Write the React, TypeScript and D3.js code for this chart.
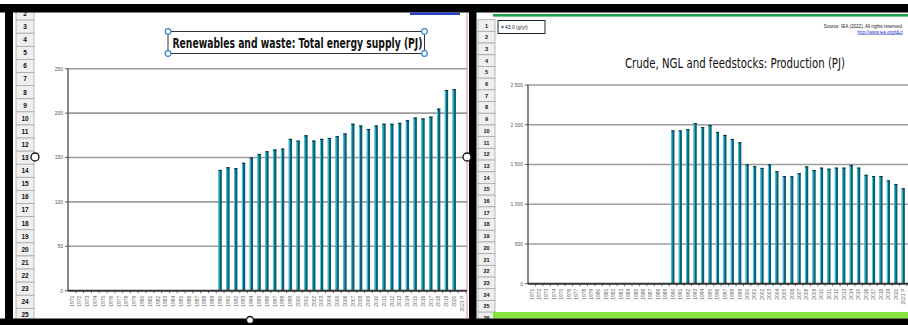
import React from "react";
import * as d3 from "d3";

const years = [
  "1971","1972","1973","1974","1975","1976","1977","1978","1979","1980",
  "1981","1982","1983","1984","1985","1986","1987","1988","1989","1990",
  "1991","1992","1993","1994","1995","1996","1997","1998","1999","2000",
  "2001","2002","2003","2004","2005","2006","2007","2008","2009","2010",
  "2011","2012","2013","2014","2015","2016","2017","2018","2019","2020",
  "2021 P",
];

const pre1990: (number | null)[] = [
  null, null, null, null, null, null, null, null, null, null,
  null, null, null, null, null, null, null, null, null,
];

// Renewables and waste: Total energy supply (PJ), 1990-2020 (2021 P not shown)
const renewables: (number | null)[] = [
  ...pre1990,
  136, 139, 138, 144, 150, 154, 157, 159, 160, 171,
  169, 175, 169, 171, 172, 174, 177, 188, 186, 182,
  186, 188, 188, 189, 192, 195, 194, 196, 205, 226,
  227, null,
];

// Crude, NGL and feedstocks: Production (PJ), 1990-2021 P
const crude: (number | null)[] = [
  ...pre1990,
  1928, 1928, 1945, 2021, 1970, 1996, 1910, 1872, 1821, 1779,
  1500, 1479, 1457, 1500, 1415, 1355, 1351, 1390, 1475, 1430,
  1460, 1447, 1460, 1460, 1494, 1460, 1370, 1355, 1355, 1300,
  1253, 1200,
];

const leftTicks = [0, 50, 100, 150, 200, 250];
const rightTicks = [0, 500, 1000, 1500, 2000, 2500];
const rightTickLabels = ["0", "500", "1 000", "1 500", "2 000", "2 500"];
const leftRows = [2,3,4,5,6,7,8,9,10,11,12,13,14,15,16,17,18,19,20,21,22,23,24,25];
const rightRows = [1,2,3,4,5,6,7,8,9,10,11,12,13,14,15,16,17,18,19,20,21,22,23,24,25,26];

const leftTitle = "Renewables and waste: Total energy supply (PJ)";
const rightTitle = "Crude, NGL and feedstocks: Production (PJ)";

const FONT = "'Liberation Sans', Arial, sans-serif";
const NARROW = "'Liberation Sans Narrow', 'DejaVu Sans Condensed', 'Liberation Sans', sans-serif";

type ChartProps = {
  values: (number | null)[];
  x0: number; x1: number; yTop: number; yBot: number;
  max: number; ticks: number[]; tickLabels: string[];
  clipId: string; clipRight: number;
};

function BarChart(p: ChartProps) {
  const x = d3.scaleBand<string>().domain(years).range([p.x0, p.x1]).paddingInner(0.58).paddingOuter(0.29);
  const y = d3.scaleLinear().domain([0, p.max]).range([p.yBot, p.yTop]);
  const step = x.step();
  return (
    <g>
      <defs>
        <clipPath id={p.clipId}>
          <rect x={0} y={0} width={p.clipRight} height={325} />
        </clipPath>
      </defs>
      <g clipPath={`url(#${p.clipId})`}>
        {p.ticks.map((t, i) => (
          <g key={t}>
            {t > 0 && (
              <line x1={p.x0} x2={p.x1 + 10} y1={y(t)} y2={y(t)} stroke="#9c9c9c" strokeWidth={1.6} />
            )}
            <line x1={p.x0 - 3} x2={p.x0} y1={y(t)} y2={y(t)} stroke="#555" strokeWidth={1} />
            <text x={p.x0 - 5} y={y(t) + 1.8} fontSize={5} fill="#555" textAnchor="end" fontFamily={FONT}>
              {p.tickLabels[i]}
            </text>
          </g>
        ))}
        {years.map((yr, i) => {
          const v = p.values[i];
          if (v == null) return null;
          const bx = x(yr) as number;
          const bw = x.bandwidth();
          return (
            <g key={yr}>
              <rect x={bx} y={y(v)} width={bw} height={y(0) - y(v)} fill="#0c5f72" />
              <line x1={bx + 0.5} x2={bx + 0.5} y1={y(v)} y2={y(0)} stroke="#3fd3ea" strokeWidth={1} />
              <line x1={bx} x2={bx + bw} y1={y(v) + 0.5} y2={y(v) + 0.5} stroke="#06303a" strokeWidth={1} />
            </g>
          );
        })}
        <line x1={p.x0} x2={p.x0} y1={p.yTop} y2={p.yBot} stroke="#555" strokeWidth={1.4} />
        <line x1={p.x0} x2={p.x1 + 10} y1={p.yBot} y2={p.yBot} stroke="#333" strokeWidth={2} />
        {years.map((yr, i) => (
          <line key={"t" + yr} x1={p.x0 + step * (i + 1)} x2={p.x0 + step * (i + 1)} y1={p.yBot} y2={p.yBot + 2.5} stroke="#444" strokeWidth={0.8} />
        ))}
        {years.map((yr) => {
          const cx = (x(yr) as number) + x.bandwidth() / 2;
          const ty = p.yBot + 5;
          return (
            <text key={"l" + yr} x={cx + 1.8} y={ty} fontSize={5} fill="#666" fontFamily={FONT}
              textAnchor="end" transform={`rotate(-90, ${cx + 1.8}, ${ty})`}>
              {yr}
            </text>
          );
        })}
      </g>
    </g>
  );
}

export default function App() {
  const lRowH = 13.1;
  const rRowH = 11.7;
  const handle = (cx: number, cy: number, k: string) => (
    <circle key={k} cx={cx} cy={cy} r={2.8} fill="#fff" stroke="#3b82d6" strokeWidth={1.2} />
  );
  return (
    <svg width={908} height={325} style={{ position: "absolute", left: 0, top: 0, background: "#fff" }}>
      <rect x={0} y={0} width={908} height={325} fill="#fff" />
      {/* row headers left */}
      {leftRows.map((r, i) => {
        const cy = 13.6 + i * lRowH;
        return (
          <g key={"lr" + r}>
            <rect x={16} y={cy - lRowH / 2} width={18} height={lRowH} fill="#efefef" stroke="#a8a8a8" strokeWidth={0.8} />
            <text x={25} y={cy + 2.3} fontSize={6.5} textAnchor="middle" fill="#111" fontFamily={FONT} fontWeight="bold">{r}</text>
          </g>
        );
      })}
      {/* row headers right */}
      {rightRows.map((r, i) => {
        const cy = 25.5 + i * rRowH;
        return (
          <g key={"rr" + r}>
            <rect x={478} y={cy - rRowH / 2} width={17} height={rRowH} fill="#efefef" stroke="#a8a8a8" strokeWidth={0.8} />
            <text x={486.5} y={cy + 2} fontSize={5.6} textAnchor="middle" fill="#111" fontFamily={FONT} fontWeight="bold">{r}</text>
          </g>
        );
      })}

      <BarChart values={renewables} x0={68} x1={466} yTop={68.7} yBot={290.7} max={250}
        ticks={leftTicks} tickLabels={leftTicks.map(String)} clipId="cl" clipRight={467} />
      <BarChart values={crude} x0={528} x1={907} yTop={85} yBot={283.7} max={2500}
        ticks={rightTicks} tickLabels={rightTickLabels} clipId="cr" clipRight={908} />

      {/* left title box */}
      <rect x={168} y={31.5} width={256.5} height={22} fill="#fff" stroke="#333" strokeWidth={1} />
      <text x={297.5} y={47.5} fontSize={13.5} fontWeight="bold" textAnchor="middle" fill="#111"
        fontFamily={NARROW} textLength={250} lengthAdjust="spacingAndGlyphs">{leftTitle}</text>
      {handle(168, 31.5, "h1")}{handle(424.5, 31.5, "h2")}{handle(168, 53.5, "h3")}{handle(424.5, 53.5, "h4")}

      {/* right title */}
      <text x={735} y={67.5} fontSize={14} textAnchor="middle" fill="#111"
        fontFamily={NARROW} textLength={220} lengthAdjust="spacingAndGlyphs">{rightTitle}</text>

      {/* right top small box and source */}
      <rect x={498} y={20.5} width={47} height={13} fill="#fff" stroke="#222" strokeWidth={1} />
      <circle cx={502.5} cy={27} r={1.2} fill="#1a6fb0" />
      <text x={505} y={28.8} fontSize={5} fill="#222" fontFamily={FONT}>43.0 (g/yr)</text>
      <text x={903} y={27.5} fontSize={4.6} fill="#222" textAnchor="end" fontFamily={FONT}>Source: IEA (2022). All rights reserved.</text>
      <text x={903} y={33.5} fontSize={4.6} fill="#2233cc" textAnchor="end" fontFamily={FONT} textDecoration="underline">http://www.iea.org/t&amp;c/</text>

      {/* frame */}
      <rect x={0} y={4} width={908} height={8.5} fill="#000" />
      <rect x={5} y={4} width={8} height={321} fill="#000" />
      <rect x={469} y={4} width={7.5} height={321} fill="#000" />
      <rect x={493} y={312} width={415} height={6.5} fill="#86e23c" />
      <rect x={0} y={318.5} width={908} height={6.5} fill="#000" />
      <rect x={493} y={14} width={415} height={2.6} fill="#1f9e4a" />
      <rect x={410} y={12.5} width={50} height={2.5} fill="#2b3fc0" />
      <line x1={467} x2={467} y1={12.5} y2={318.5} stroke="#d46a6a" strokeWidth={0.8} />

      {/* chart selection handles */}
      <circle cx={35} cy={157} r={4} fill="#fff" stroke="#111" strokeWidth={1.3} />
      <circle cx={467} cy={157} r={4} fill="#fff" stroke="#111" strokeWidth={1.3} />
      <circle cx={250} cy={320} r={3.5} fill="#fff" stroke="#111" strokeWidth={1.3} />
    </svg>
  );
}
